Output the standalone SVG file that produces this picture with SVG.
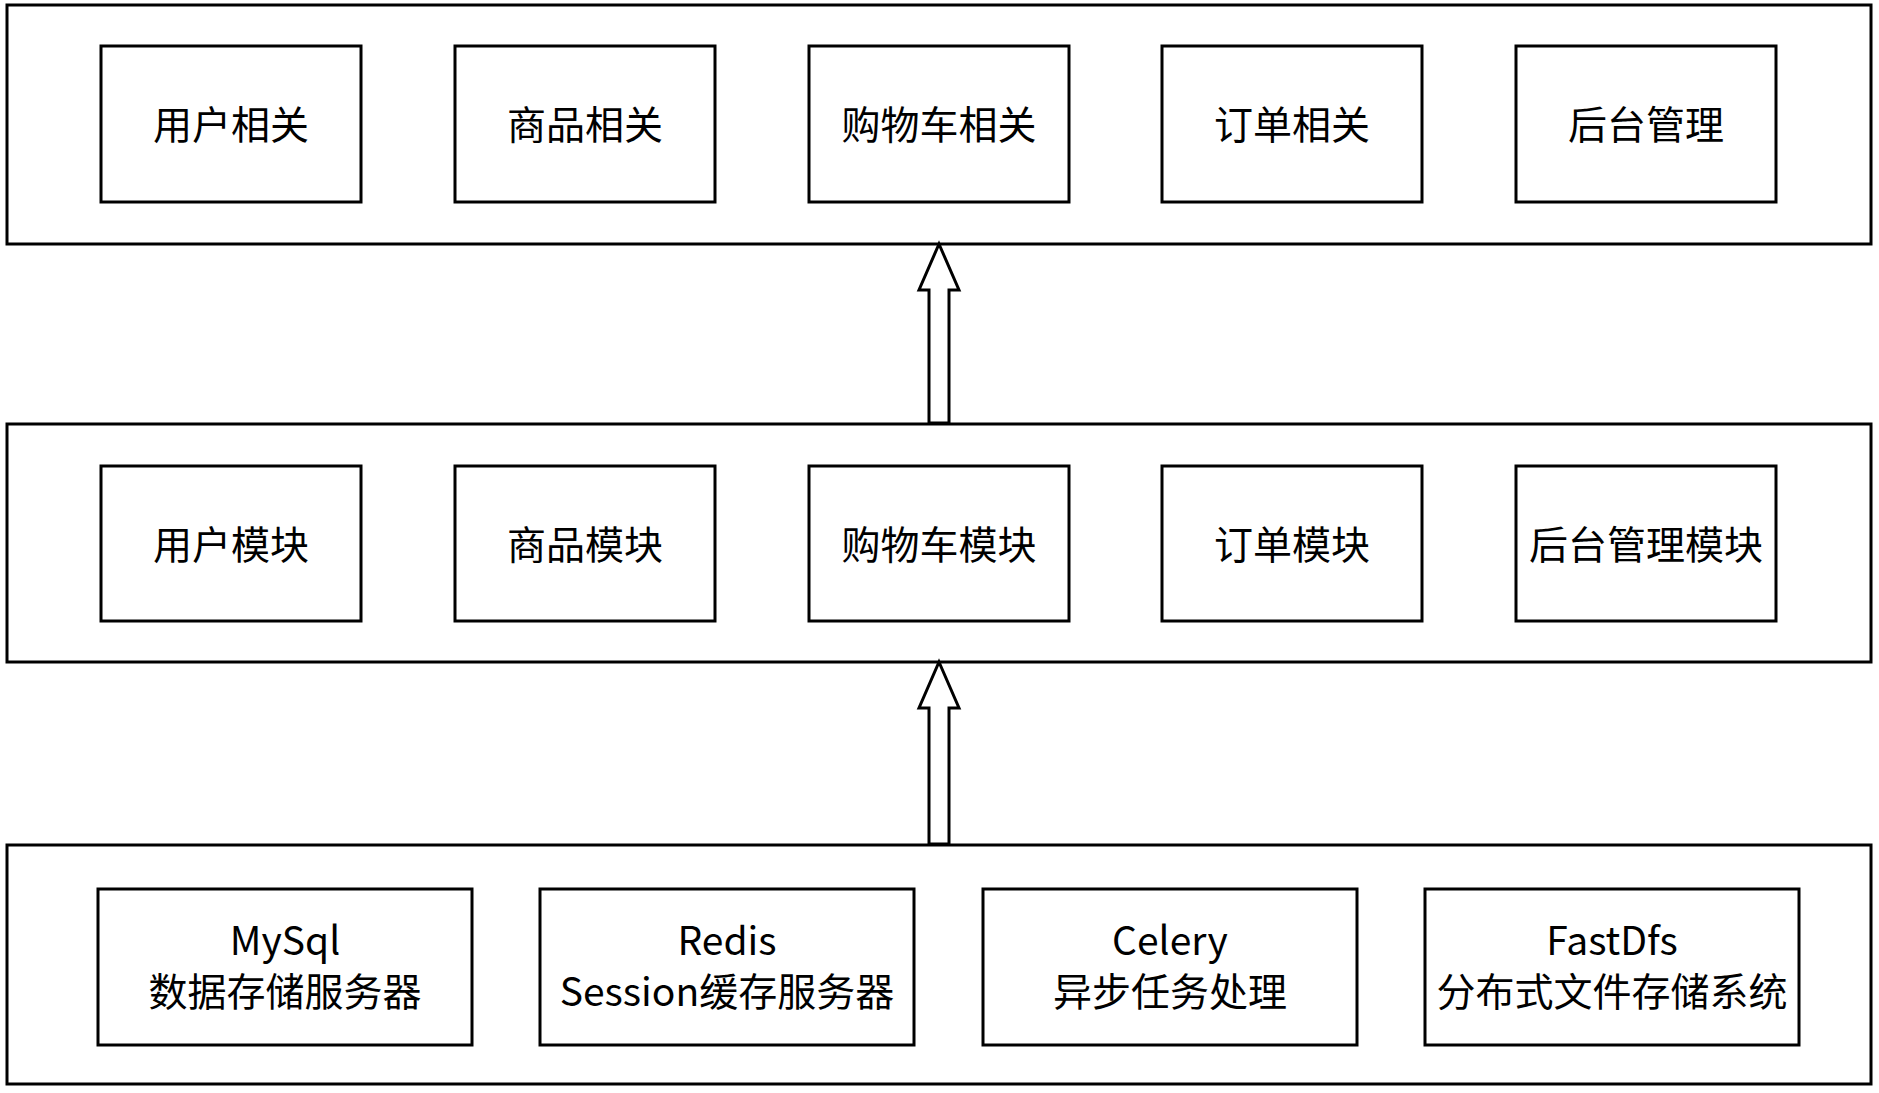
<svg xmlns="http://www.w3.org/2000/svg" width="1879" height="1093" viewBox="0 0 1879 1093">
<style>
rect{fill:#fff;stroke:#000;stroke-width:3}
text{font-family:"Noto Sans CJK SC","Liberation Sans",sans-serif;font-size:39px;text-anchor:middle;dominant-baseline:central;fill:#000}
.arr{fill:#fff;stroke:#000;stroke-width:3;stroke-linejoin:miter}
</style>
<rect width="1879" height="1093" style="stroke:none"/>
<g id="layer-top"><rect x="7" y="5" width="1864" height="239"/></g>
<g id="layer-mid"><rect x="7" y="424" width="1864" height="238"/></g>
<g id="layer-bottom"><rect x="7" y="845" width="1864" height="239"/></g>
<g id="n1"><rect x="101" y="46" width="260" height="156"/><text x="231" y="122">用户相关</text></g>
<g id="n2"><rect x="455" y="46" width="260" height="156"/><text x="585" y="122">商品相关</text></g>
<g id="n3"><rect x="809" y="46" width="260" height="156"/><text x="939" y="122">购物车相关</text></g>
<g id="n4"><rect x="1162" y="46" width="260" height="156"/><text x="1292" y="122">订单相关</text></g>
<g id="n5"><rect x="1516" y="46" width="260" height="156"/><text x="1646" y="122">后台管理</text></g>
<g id="m1"><rect x="101" y="466" width="260" height="155"/><text x="231" y="542">用户模块</text></g>
<g id="m2"><rect x="455" y="466" width="260" height="155"/><text x="585" y="542">商品模块</text></g>
<g id="m3"><rect x="809" y="466" width="260" height="155"/><text x="939" y="542">购物车模块</text></g>
<g id="m4"><rect x="1162" y="466" width="260" height="155"/><text x="1292" y="542">订单模块</text></g>
<g id="m5"><rect x="1516" y="466" width="260" height="155"/><text x="1646" y="542">后台管理模块</text></g>
<g id="b1"><rect x="98" y="889" width="374" height="156"/><text x="285" y="938">MySql</text><text x="285" y="989">数据存储服务器</text></g>
<g id="b2"><rect x="540" y="889" width="374" height="156"/><text x="727" y="938">Redis</text><text x="727" y="989">Session缓存服务器</text></g>
<g id="b3"><rect x="983" y="889" width="374" height="156"/><text x="1170" y="938">Celery</text><text x="1170" y="989">异步任务处理</text></g>
<g id="b4"><rect x="1425" y="889" width="374" height="156"/><text x="1612" y="938">FastDfs</text><text x="1612" y="989">分布式文件存储系统</text></g>
<g id="connectors">
<path class="arr" d="M939 244 L959 290 L949 290 L949 423 L929 423 L929 290 L919 290 Z"/>
<path class="arr" d="M939 662 L959 708 L949 708 L949 844 L929 844 L929 708 L919 708 Z"/>
</g>
</svg>
